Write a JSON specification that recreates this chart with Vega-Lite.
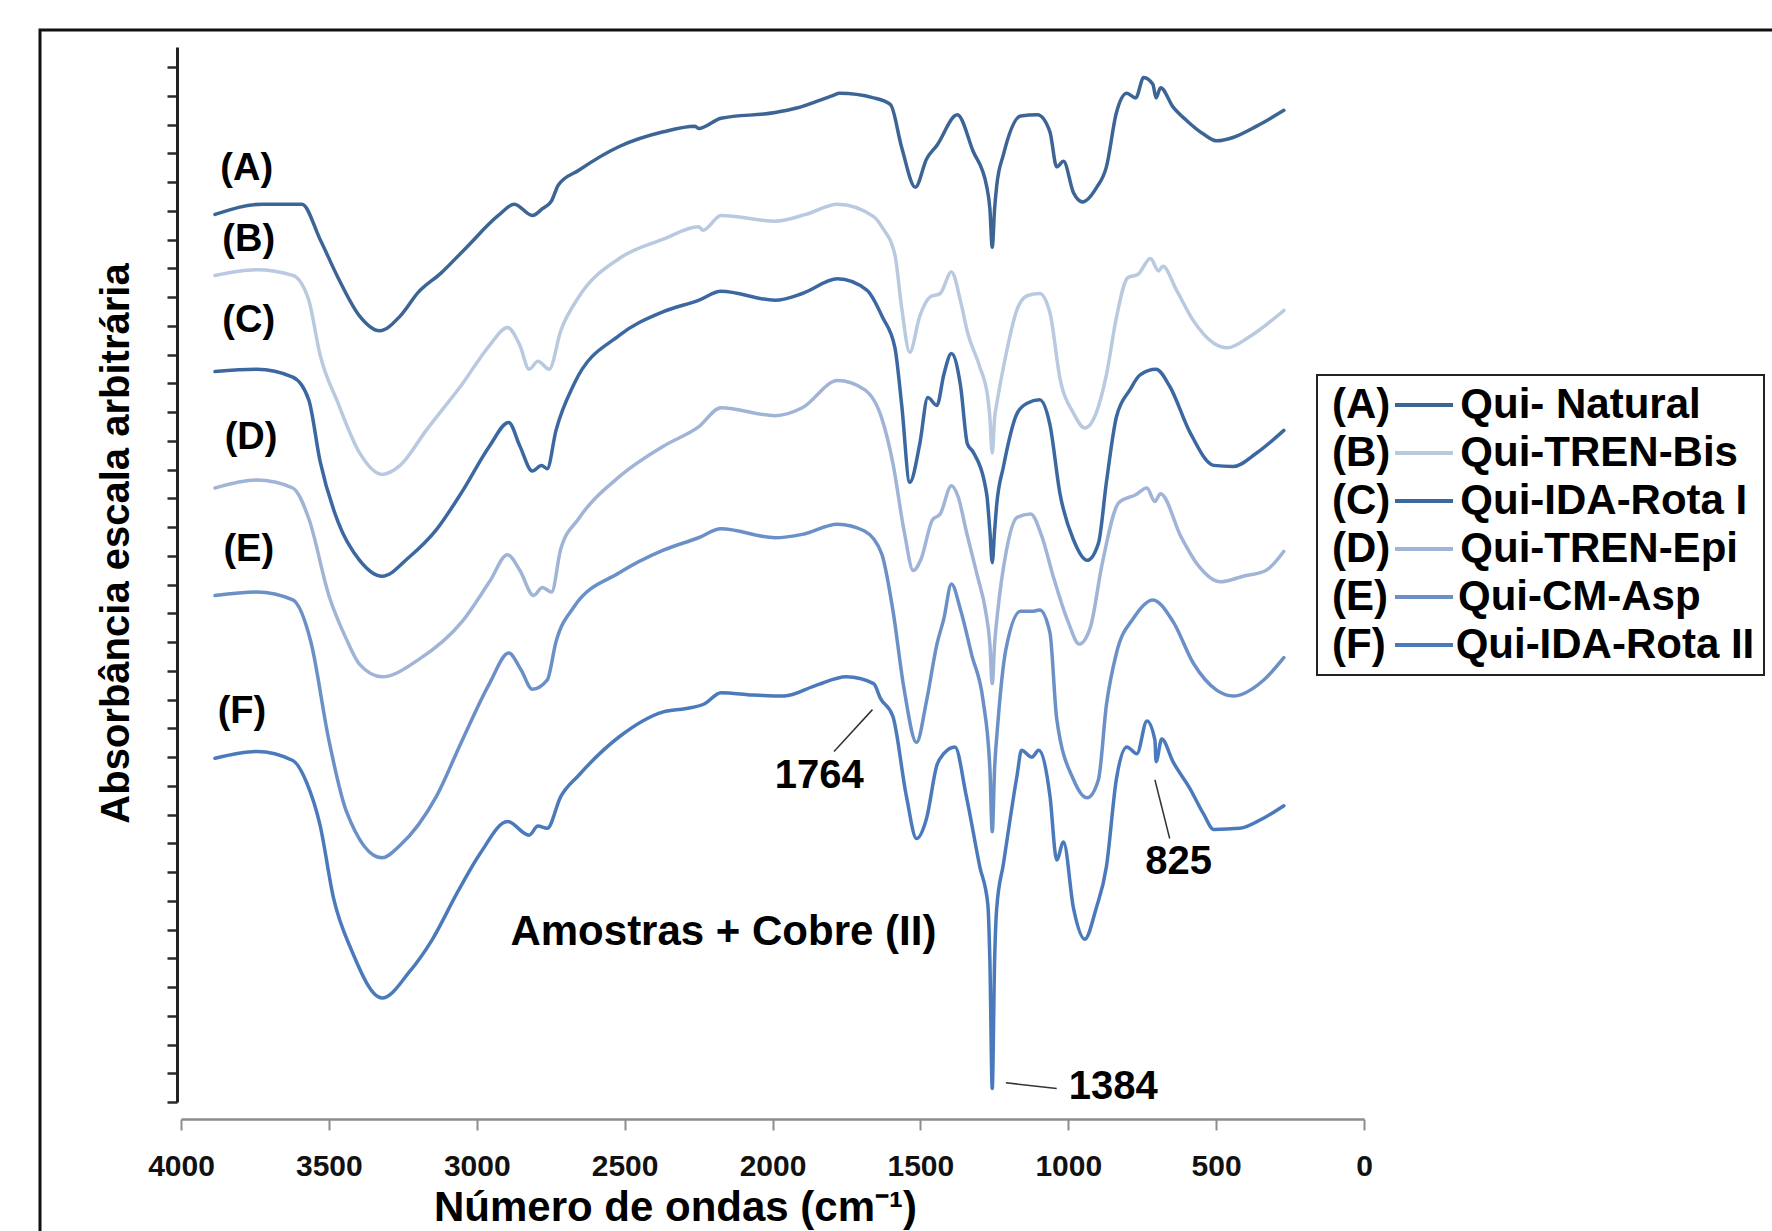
{
  "$schema": "https://vega.github.io/schema/vega-lite/v6.json",
  "width": 1183,
  "height": 1055,
  "autosize": {"type": "none"},
  "padding": {"left": 181, "top": 47, "right": 408, "bottom": 129},
  "background": "#ffffff",
  "config": {"view": {"stroke": null}, "legend": {"strokeWidth": 3}},
  "datasets": {
    "spectra": [
      {"s":"A","wn":3885,"abs":7.85},{"s":"A","wn":3725,"abs":7.94},{"s":"A","wn":3591,"abs":7.94},{"s":"A","wn":3530,"abs":7.63},{"s":"A","wn":3469,"abs":7.29},{"s":"A","wn":3396,"abs":6.95},{"s":"A","wn":3328,"abs":6.82},{"s":"A","wn":3259,"abs":6.95},{"s":"A","wn":3198,"abs":7.16},{"s":"A","wn":3121,"abs":7.33},{"s":"A","wn":3034,"abs":7.56},{"s":"A","wn":2927,"abs":7.84},{"s":"A","wn":2873,"abs":7.94},{"s":"A","wn":2812,"abs":7.84},{"s":"A","wn":2778,"abs":7.90},{"s":"A","wn":2747,"abs":7.97},{"s":"A","wn":2724,"abs":8.11},{"s":"A","wn":2655,"abs":8.24},{"s":"A","wn":2518,"abs":8.45},{"s":"A","wn":2369,"abs":8.58},{"s":"A","wn":2262,"abs":8.63},{"s":"A","wn":2250,"abs":8.61},{"s":"A","wn":2174,"abs":8.70},{"s":"A","wn":1991,"abs":8.75},{"s":"A","wn":1918,"abs":8.79},{"s":"A","wn":1796,"abs":8.90},{"s":"A","wn":1773,"abs":8.92},{"s":"A","wn":1658,"abs":8.88},{"s":"A","wn":1601,"abs":8.82},{"s":"A","wn":1563,"abs":8.44},{"s":"A","wn":1517,"abs":8.09},{"s":"A","wn":1479,"abs":8.34},{"s":"A","wn":1444,"abs":8.46},{"s":"A","wn":1375,"abs":8.73},{"s":"A","wn":1322,"abs":8.41},{"s":"A","wn":1276,"abs":8.10},{"s":"A","wn":1265,"abs":7.90},{"s":"A","wn":1257,"abs":7.56},{"s":"A","wn":1249,"abs":7.90},{"s":"A","wn":1242,"abs":8.10},{"s":"A","wn":1219,"abs":8.38},{"s":"A","wn":1161,"abs":8.72},{"s":"A","wn":1104,"abs":8.73},{"s":"A","wn":1062,"abs":8.58},{"s":"A","wn":1039,"abs":8.27},{"s":"A","wn":1016,"abs":8.32},{"s":"A","wn":982,"abs":8.04},{"s":"A","wn":951,"abs":7.96},{"s":"A","wn":906,"abs":8.08},{"s":"A","wn":871,"abs":8.27},{"s":"A","wn":837,"abs":8.75},{"s":"A","wn":802,"abs":8.92},{"s":"A","wn":772,"abs":8.88},{"s":"A","wn":745,"abs":9.06},{"s":"A","wn":714,"abs":9.00},{"s":"A","wn":703,"abs":8.88},{"s":"A","wn":688,"abs":8.97},{"s":"A","wn":646,"abs":8.80},{"s":"A","wn":600,"abs":8.68},{"s":"A","wn":543,"abs":8.56},{"s":"A","wn":497,"abs":8.50},{"s":"A","wn":443,"abs":8.53},{"s":"A","wn":363,"abs":8.63},{"s":"A","wn":271,"abs":8.77},
      {"s":"B","wn":3885,"abs":7.31},{"s":"B","wn":3744,"abs":7.36},{"s":"B","wn":3622,"abs":7.31},{"s":"B","wn":3568,"abs":7.09},{"s":"B","wn":3530,"abs":6.61},{"s":"B","wn":3469,"abs":6.18},{"s":"B","wn":3396,"abs":5.74},{"s":"B","wn":3320,"abs":5.55},{"s":"B","wn":3259,"abs":5.63},{"s":"B","wn":3171,"abs":5.94},{"s":"B","wn":3049,"abs":6.35},{"s":"B","wn":2957,"abs":6.69},{"s":"B","wn":2896,"abs":6.85},{"s":"B","wn":2854,"abs":6.69},{"s":"B","wn":2823,"abs":6.48},{"s":"B","wn":2793,"abs":6.55},{"s":"B","wn":2755,"abs":6.48},{"s":"B","wn":2716,"abs":6.82},{"s":"B","wn":2655,"abs":7.12},{"s":"B","wn":2518,"abs":7.46},{"s":"B","wn":2369,"abs":7.63},{"s":"B","wn":2250,"abs":7.74},{"s":"B","wn":2235,"abs":7.71},{"s":"B","wn":2174,"abs":7.84},{"s":"B","wn":1991,"abs":7.79},{"s":"B","wn":1887,"abs":7.85},{"s":"B","wn":1780,"abs":7.94},{"s":"B","wn":1658,"abs":7.83},{"s":"B","wn":1628,"abs":7.73},{"s":"B","wn":1586,"abs":7.49},{"s":"B","wn":1563,"abs":7.02},{"s":"B","wn":1536,"abs":6.63},{"s":"B","wn":1502,"abs":6.95},{"s":"B","wn":1467,"abs":7.12},{"s":"B","wn":1433,"abs":7.15},{"s":"B","wn":1395,"abs":7.34},{"s":"B","wn":1364,"abs":7.08},{"s":"B","wn":1341,"abs":6.81},{"s":"B","wn":1299,"abs":6.50},{"s":"B","wn":1272,"abs":6.23},{"s":"B","wn":1265,"abs":6.05},{"s":"B","wn":1257,"abs":5.74},{"s":"B","wn":1249,"abs":6.05},{"s":"B","wn":1242,"abs":6.17},{"s":"B","wn":1219,"abs":6.50},{"s":"B","wn":1173,"abs":7.01},{"s":"B","wn":1139,"abs":7.13},{"s":"B","wn":1097,"abs":7.15},{"s":"B","wn":1062,"abs":6.98},{"s":"B","wn":1028,"abs":6.40},{"s":"B","wn":982,"abs":6.09},{"s":"B","wn":944,"abs":5.96},{"s":"B","wn":906,"abs":6.09},{"s":"B","wn":871,"abs":6.43},{"s":"B","wn":837,"abs":6.94},{"s":"B","wn":799,"abs":7.29},{"s":"B","wn":764,"abs":7.32},{"s":"B","wn":722,"abs":7.46},{"s":"B","wn":695,"abs":7.35},{"s":"B","wn":680,"abs":7.39},{"s":"B","wn":634,"abs":7.18},{"s":"B","wn":577,"abs":6.91},{"s":"B","wn":508,"abs":6.71},{"s":"B","wn":462,"abs":6.67},{"s":"B","wn":386,"abs":6.77},{"s":"B","wn":271,"abs":7.00},
      {"s":"C","wn":3885,"abs":6.46},{"s":"C","wn":3744,"abs":6.48},{"s":"C","wn":3622,"abs":6.41},{"s":"C","wn":3568,"abs":6.21},{"s":"C","wn":3530,"abs":5.67},{"s":"C","wn":3469,"abs":5.13},{"s":"C","wn":3396,"abs":4.79},{"s":"C","wn":3320,"abs":4.65},{"s":"C","wn":3228,"abs":4.82},{"s":"C","wn":3137,"abs":5.06},{"s":"C","wn":3049,"abs":5.40},{"s":"C","wn":2957,"abs":5.80},{"s":"C","wn":2892,"abs":6.01},{"s":"C","wn":2854,"abs":5.80},{"s":"C","wn":2812,"abs":5.58},{"s":"C","wn":2781,"abs":5.63},{"s":"C","wn":2762,"abs":5.60},{"s":"C","wn":2732,"abs":5.94},{"s":"C","wn":2671,"abs":6.35},{"s":"C","wn":2518,"abs":6.78},{"s":"C","wn":2369,"abs":6.99},{"s":"C","wn":2250,"abs":7.09},{"s":"C","wn":2174,"abs":7.17},{"s":"C","wn":1991,"abs":7.09},{"s":"C","wn":1899,"abs":7.15},{"s":"C","wn":1780,"abs":7.28},{"s":"C","wn":1681,"abs":7.18},{"s":"C","wn":1628,"abs":6.94},{"s":"C","wn":1586,"abs":6.67},{"s":"C","wn":1563,"abs":6.16},{"s":"C","wn":1536,"abs":5.48},{"s":"C","wn":1502,"abs":5.82},{"s":"C","wn":1475,"abs":6.23},{"s":"C","wn":1444,"abs":6.16},{"s":"C","wn":1421,"abs":6.43},{"s":"C","wn":1395,"abs":6.62},{"s":"C","wn":1364,"abs":6.33},{"s":"C","wn":1341,"abs":5.82},{"s":"C","wn":1322,"abs":5.75},{"s":"C","wn":1276,"abs":5.38},{"s":"C","wn":1265,"abs":5.05},{"s":"C","wn":1257,"abs":4.77},{"s":"C","wn":1249,"abs":5.05},{"s":"C","wn":1242,"abs":5.28},{"s":"C","wn":1219,"abs":5.62},{"s":"C","wn":1173,"abs":6.09},{"s":"C","wn":1139,"abs":6.18},{"s":"C","wn":1097,"abs":6.21},{"s":"C","wn":1062,"abs":5.99},{"s":"C","wn":1028,"abs":5.38},{"s":"C","wn":982,"abs":4.97},{"s":"C","wn":936,"abs":4.79},{"s":"C","wn":898,"abs":4.94},{"s":"C","wn":871,"abs":5.48},{"s":"C","wn":837,"abs":6.06},{"s":"C","wn":791,"abs":6.30},{"s":"C","wn":757,"abs":6.43},{"s":"C","wn":703,"abs":6.48},{"s":"C","wn":657,"abs":6.33},{"s":"C","wn":588,"abs":5.92},{"s":"C","wn":508,"abs":5.63},{"s":"C","wn":443,"abs":5.62},{"s":"C","wn":363,"abs":5.74},{"s":"C","wn":271,"abs":5.94},
      {"s":"D","wn":3885,"abs":5.43},{"s":"D","wn":3744,"abs":5.50},{"s":"D","wn":3622,"abs":5.43},{"s":"D","wn":3568,"abs":5.16},{"s":"D","wn":3500,"abs":4.48},{"s":"D","wn":3442,"abs":4.10},{"s":"D","wn":3396,"abs":3.87},{"s":"D","wn":3320,"abs":3.76},{"s":"D","wn":3198,"abs":3.91},{"s":"D","wn":3049,"abs":4.25},{"s":"D","wn":2957,"abs":4.60},{"s":"D","wn":2896,"abs":4.84},{"s":"D","wn":2854,"abs":4.70},{"s":"D","wn":2808,"abs":4.48},{"s":"D","wn":2778,"abs":4.55},{"s":"D","wn":2747,"abs":4.51},{"s":"D","wn":2716,"abs":4.89},{"s":"D","wn":2655,"abs":5.16},{"s":"D","wn":2518,"abs":5.53},{"s":"D","wn":2369,"abs":5.80},{"s":"D","wn":2250,"abs":5.97},{"s":"D","wn":2174,"abs":6.14},{"s":"D","wn":1991,"abs":6.07},{"s":"D","wn":1899,"abs":6.14},{"s":"D","wn":1780,"abs":6.38},{"s":"D","wn":1689,"abs":6.30},{"s":"D","wn":1631,"abs":6.05},{"s":"D","wn":1593,"abs":5.65},{"s":"D","wn":1555,"abs":5.05},{"s":"D","wn":1524,"abs":4.70},{"s":"D","wn":1498,"abs":4.80},{"s":"D","wn":1459,"abs":5.15},{"s":"D","wn":1433,"abs":5.20},{"s":"D","wn":1395,"abs":5.45},{"s":"D","wn":1372,"abs":5.35},{"s":"D","wn":1345,"abs":5.05},{"s":"D","wn":1307,"abs":4.65},{"s":"D","wn":1280,"abs":4.35},{"s":"D","wn":1265,"abs":4.05},{"s":"D","wn":1257,"abs":3.70},{"s":"D","wn":1249,"abs":4.05},{"s":"D","wn":1238,"abs":4.35},{"s":"D","wn":1211,"abs":4.85},{"s":"D","wn":1173,"abs":5.17},{"s":"D","wn":1127,"abs":5.20},{"s":"D","wn":1089,"abs":5.00},{"s":"D","wn":1051,"abs":4.65},{"s":"D","wn":1001,"abs":4.25},{"s":"D","wn":963,"abs":4.05},{"s":"D","wn":925,"abs":4.20},{"s":"D","wn":886,"abs":4.75},{"s":"D","wn":829,"abs":5.30},{"s":"D","wn":772,"abs":5.37},{"s":"D","wn":734,"abs":5.43},{"s":"D","wn":707,"abs":5.31},{"s":"D","wn":688,"abs":5.38},{"s":"D","wn":619,"abs":5.00},{"s":"D","wn":562,"abs":4.75},{"s":"D","wn":485,"abs":4.60},{"s":"D","wn":409,"abs":4.65},{"s":"D","wn":332,"abs":4.70},{"s":"D","wn":271,"abs":4.87},
      {"s":"E","wn":3885,"abs":4.48},{"s":"E","wn":3744,"abs":4.51},{"s":"E","wn":3622,"abs":4.44},{"s":"E","wn":3561,"abs":4.07},{"s":"E","wn":3500,"abs":3.20},{"s":"E","wn":3442,"abs":2.58},{"s":"E","wn":3320,"abs":2.16},{"s":"E","wn":3259,"abs":2.27},{"s":"E","wn":3137,"abs":2.70},{"s":"E","wn":3049,"abs":3.20},{"s":"E","wn":2957,"abs":3.70},{"s":"E","wn":2892,"abs":3.97},{"s":"E","wn":2850,"abs":3.82},{"s":"E","wn":2812,"abs":3.65},{"s":"E","wn":2762,"abs":3.73},{"s":"E","wn":2732,"abs":4.07},{"s":"E","wn":2671,"abs":4.38},{"s":"E","wn":2518,"abs":4.68},{"s":"E","wn":2369,"abs":4.88},{"s":"E","wn":2250,"abs":4.99},{"s":"E","wn":2174,"abs":5.07},{"s":"E","wn":1991,"abs":4.99},{"s":"E","wn":1899,"abs":5.02},{"s":"E","wn":1780,"abs":5.11},{"s":"E","wn":1689,"abs":5.05},{"s":"E","wn":1631,"abs":4.85},{"s":"E","wn":1593,"abs":4.35},{"s":"E","wn":1555,"abs":3.65},{"s":"E","wn":1513,"abs":3.18},{"s":"E","wn":1479,"abs":3.55},{"s":"E","wn":1444,"abs":4.05},{"s":"E","wn":1421,"abs":4.27},{"s":"E","wn":1395,"abs":4.58},{"s":"E","wn":1364,"abs":4.35},{"s":"E","wn":1326,"abs":3.95},{"s":"E","wn":1288,"abs":3.55},{"s":"E","wn":1265,"abs":2.95},{"s":"E","wn":1257,"abs":2.39},{"s":"E","wn":1249,"abs":2.95},{"s":"E","wn":1238,"abs":3.35},{"s":"E","wn":1211,"abs":4.00},{"s":"E","wn":1161,"abs":4.34},{"s":"E","wn":1123,"abs":4.34},{"s":"E","wn":1097,"abs":4.35},{"s":"E","wn":1062,"abs":4.15},{"s":"E","wn":1039,"abs":3.39},{"s":"E","wn":982,"abs":2.85},{"s":"E","wn":936,"abs":2.69},{"s":"E","wn":898,"abs":2.85},{"s":"E","wn":871,"abs":3.51},{"s":"E","wn":837,"abs":3.97},{"s":"E","wn":779,"abs":4.28},{"s":"E","wn":714,"abs":4.44},{"s":"E","wn":646,"abs":4.25},{"s":"E","wn":577,"abs":3.88},{"s":"E","wn":497,"abs":3.64},{"s":"E","wn":443,"abs":3.59},{"s":"E","wn":340,"abs":3.73},{"s":"E","wn":271,"abs":3.93},
      {"s":"F","wn":3885,"abs":3.04},{"s":"F","wn":3744,"abs":3.10},{"s":"F","wn":3622,"abs":3.02},{"s":"F","wn":3576,"abs":2.83},{"s":"F","wn":3530,"abs":2.45},{"s":"F","wn":3484,"abs":1.80},{"s":"F","wn":3423,"abs":1.34},{"s":"F","wn":3320,"abs":0.92},{"s":"F","wn":3228,"abs":1.15},{"s":"F","wn":3152,"abs":1.43},{"s":"F","wn":3064,"abs":1.86},{"s":"F","wn":2988,"abs":2.20},{"s":"F","wn":2896,"abs":2.48},{"s":"F","wn":2823,"abs":2.36},{"s":"F","wn":2793,"abs":2.44},{"s":"F","wn":2762,"abs":2.42},{"s":"F","wn":2716,"abs":2.70},{"s":"F","wn":2655,"abs":2.89},{"s":"F","wn":2518,"abs":3.23},{"s":"F","wn":2369,"abs":3.45},{"s":"F","wn":2292,"abs":3.48},{"s":"F","wn":2231,"abs":3.52},{"s":"F","wn":2174,"abs":3.62},{"s":"F","wn":2067,"abs":3.60},{"s":"F","wn":1960,"abs":3.59},{"s":"F","wn":1857,"abs":3.68},{"s":"F","wn":1750,"abs":3.76},{"s":"F","wn":1658,"abs":3.70},{"s":"F","wn":1635,"abs":3.57},{"s":"F","wn":1593,"abs":3.41},{"s":"F","wn":1547,"abs":2.70},{"s":"F","wn":1513,"abs":2.33},{"s":"F","wn":1479,"abs":2.51},{"s":"F","wn":1444,"abs":2.98},{"s":"F","wn":1421,"abs":3.08},{"s":"F","wn":1383,"abs":3.14},{"s":"F","wn":1345,"abs":2.71},{"s":"F","wn":1299,"abs":2.08},{"s":"F","wn":1272,"abs":1.75},{"s":"F","wn":1265,"abs":1.25},{"s":"F","wn":1257,"abs":0.12},{"s":"F","wn":1249,"abs":1.25},{"s":"F","wn":1242,"abs":1.71},{"s":"F","wn":1219,"abs":2.11},{"s":"F","wn":1173,"abs":2.89},{"s":"F","wn":1158,"abs":3.11},{"s":"F","wn":1123,"abs":3.05},{"s":"F","wn":1100,"abs":3.11},{"s":"F","wn":1062,"abs":2.71},{"s":"F","wn":1039,"abs":2.14},{"s":"F","wn":1016,"abs":2.30},{"s":"F","wn":982,"abs":1.71},{"s":"F","wn":944,"abs":1.44},{"s":"F","wn":906,"abs":1.71},{"s":"F","wn":871,"abs":2.08},{"s":"F","wn":837,"abs":2.86},{"s":"F","wn":802,"abs":3.14},{"s":"F","wn":768,"abs":3.08},{"s":"F","wn":734,"abs":3.37},{"s":"F","wn":707,"abs":3.20},{"s":"F","wn":703,"abs":3.01},{"s":"F","wn":684,"abs":3.21},{"s":"F","wn":646,"abs":3.01},{"s":"F","wn":588,"abs":2.77},{"s":"F","wn":543,"abs":2.55},{"s":"F","wn":508,"abs":2.41},{"s":"F","wn":420,"abs":2.42},{"s":"F","wn":340,"abs":2.51},{"s":"F","wn":271,"abs":2.62}
    ],
    "curveLabels": [
      {"label":"(A)","wn":3778,"abs":8.25},{"label":"(B)","wn":3771,"abs":7.62},{"label":"(C)","wn":3771,"abs":6.91},{"label":"(D)","wn":3763,"abs":5.87},{"label":"(E)","wn":3771,"abs":4.88},{"label":"(F)","wn":3794,"abs":3.45}
    ],
    "peakLabels": [
      {"label":"1764","wn":1842,"abs":2.88},{"label":"825","wn":627,"abs":2.12},{"label":"1384","wn":848,"abs":0.13}
    ],
    "notes": [
      {"label":"Amostras + Cobre (II)","wn":2166,"abs":1.50}
    ],
    "leaders": [
      {"wn":1792,"abs":3.10,"wn2":1662,"abs2":3.47},{"wn":657,"abs":2.33,"wn2":707,"abs2":2.85},{"wn":1211,"abs":0.17,"wn2":1039,"abs2":0.12}
    ],
    "frame": [{"f":"frame"}]
  },
  "layer": [
    {
      "data": {"name": "spectra"},
      "mark": {"type": "line", "strokeWidth": 3.5, "strokeJoin": "round", "strokeCap": "round", "interpolate": "monotone"},
      "encoding": {
        "x": {
          "field": "wn", "type": "quantitative",
          "scale": {"domain": [0, 4000], "reverse": true, "nice": false, "zero": false},
          "axis": {
            "title": "Número de ondas (cm⁻¹)",
            "values": [4000, 3500, 3000, 2500, 2000, 1500, 1000, 500, 0],
            "format": "d",
            "offset": 17, "grid": false,
            "domainColor": "#8c8c8c", "domainWidth": 2.5,
            "tickColor": "#8c8c8c", "tickWidth": 2, "tickSize": 11,
            "labelFont": "Liberation Sans", "labelFontWeight": "bold", "labelFontSize": 30, "labelColor": "#111111",
            "labelPadding": 21, "labelFlush": false, "labelOverlap": false,
            "titleFont": "Liberation Sans", "titleFontWeight": "bold", "titleFontSize": 42, "titleColor": "#000000",
            "titleX": 494, "titleY": 101, "titleBaseline": "alphabetic", "titleAlign": "center"
          }
        },
        "y": {
          "field": "abs", "type": "quantitative",
          "scale": {"domain": [0, 9.33], "nice": false, "zero": false},
          "axis": {
            "title": "Absorbância escala arbitrária",
            "values": [0, 0.2542, 0.5084, 0.7626, 1.0168, 1.271, 1.5252, 1.7794, 2.0336, 2.2878, 2.542, 2.7962, 3.0504, 3.3046, 3.5588, 3.813, 4.0672, 4.3214, 4.5756, 4.8298, 5.084, 5.3382, 5.5924, 5.8466, 6.1008, 6.355, 6.6092, 6.8634, 7.1176, 7.3718, 7.626, 7.8802, 8.1344, 8.3886, 8.6428, 8.897, 9.1512],
            "tickCount": 40,
            "labels": false, "grid": false, "offset": 4,
            "domainColor": "#222222", "domainWidth": 3,
            "tickColor": "#2a2a2a", "tickWidth": 2.5, "tickSize": 10,
            "titleFont": "Liberation Sans", "titleFontWeight": "bold", "titleFontSize": 40, "titleColor": "#000000",
            "titleX": -61, "titleY": 496, "titleBaseline": "middle", "titleAlign": "center", "titleAngle": 270
          }
        },
        "color": {
          "field": "s", "type": "nominal",
          "scale": {"domain": ["A", "B", "C", "D", "E", "F"], "range": ["#3c6595", "#b9c9df", "#3b68a1", "#9fb4d6", "#6b90c7", "#4a7abb"]},
          "legend": {
            "orient": "none", "legendX": 1136, "legendY": 328, "direction": "vertical",
            "title": null, "padding": 9, "strokeColor": "#222222", "fillColor": "#ffffff",
            "symbolType": "stroke", "symbolSize": 3364, "symbolStrokeWidth": 4, "clipHeight": 42, "rowPadding": 6,
            "symbolOffset": 67, "labelOffset": -123,
            "labelFont": "Liberation Sans", "labelFontSize": 42, "labelFontWeight": "bold", "labelColor": "#000000", "labelLimit": 2000, "labelBaseline": "middle",
            "labelExpr": "{'A':'(A)\u00a0\u00a0\u00a0\u00a0\u00a0\u00a0Qui- Natural','B':'(B)\u00a0\u00a0\u00a0\u00a0\u00a0\u00a0Qui-TREN-Bis','C':'(C)\u00a0\u00a0\u00a0\u00a0\u00a0\u00a0Qui-IDA-Rota I','D':'(D)\u00a0\u00a0\u00a0\u00a0\u00a0\u00a0Qui-TREN-Epi','E':'(E)\u00a0\u00a0\u00a0\u00a0\u00a0\u00a0Qui-CM-Asp','F':'(F)\u00a0\u00a0\u00a0\u00a0\u00a0\u00a0Qui-IDA-Rota II'}[datum.label]",
            "encode": {"legend": {"enter": {"strokeWidth": {"value": 2}}, "update": {"strokeWidth": {"value": 2}}}}
          }
        }
      }
    },
    {
      "data": {"name": "leaders"},
      "mark": {"type": "rule", "color": "#333333", "strokeWidth": 1.5},
      "encoding": {
        "x": {"field": "wn", "type": "quantitative"},
        "y": {"field": "abs", "type": "quantitative"},
        "x2": {"field": "wn2"},
        "y2": {"field": "abs2"}
      }
    },
    {
      "data": {"name": "curveLabels"},
      "mark": {"type": "text", "font": "Liberation Sans", "fontWeight": "bold", "fontSize": 38, "color": "#000000", "align": "center", "baseline": "middle"},
      "encoding": {
        "x": {"field": "wn", "type": "quantitative"},
        "y": {"field": "abs", "type": "quantitative"},
        "text": {"field": "label"}
      }
    },
    {
      "data": {"name": "peakLabels"},
      "mark": {"type": "text", "font": "Liberation Sans", "fontWeight": "bold", "fontSize": 40, "color": "#000000", "align": "center", "baseline": "middle"},
      "encoding": {
        "x": {"field": "wn", "type": "quantitative"},
        "y": {"field": "abs", "type": "quantitative"},
        "text": {"field": "label"}
      }
    },
    {
      "data": {"name": "notes"},
      "mark": {"type": "text", "font": "Liberation Sans", "fontWeight": "bold", "fontSize": 42, "color": "#000000", "align": "center", "baseline": "middle"},
      "encoding": {
        "x": {"field": "wn", "type": "quantitative"},
        "y": {"field": "abs", "type": "quantitative"},
        "text": {"field": "label"}
      }
    },
    {
      "data": {"name": "frame"},
      "mark": {"type": "point", "opacity": 0},
      "encoding": {
        "shape": {
          "field": "f", "type": "nominal",
          "legend": {
            "orient": "none", "legendX": -141, "legendY": -17, "padding": 880,
            "strokeColor": "#111111", "title": null,
            "labelExpr": "''", "symbolOpacity": 0, "symbolStrokeWidth": 0,
            "encode": {"legend": {"enter": {"strokeWidth": {"value": 4}}, "update": {"strokeWidth": {"value": 4}}}}
          }
        }
      }
    }
  ]
}
